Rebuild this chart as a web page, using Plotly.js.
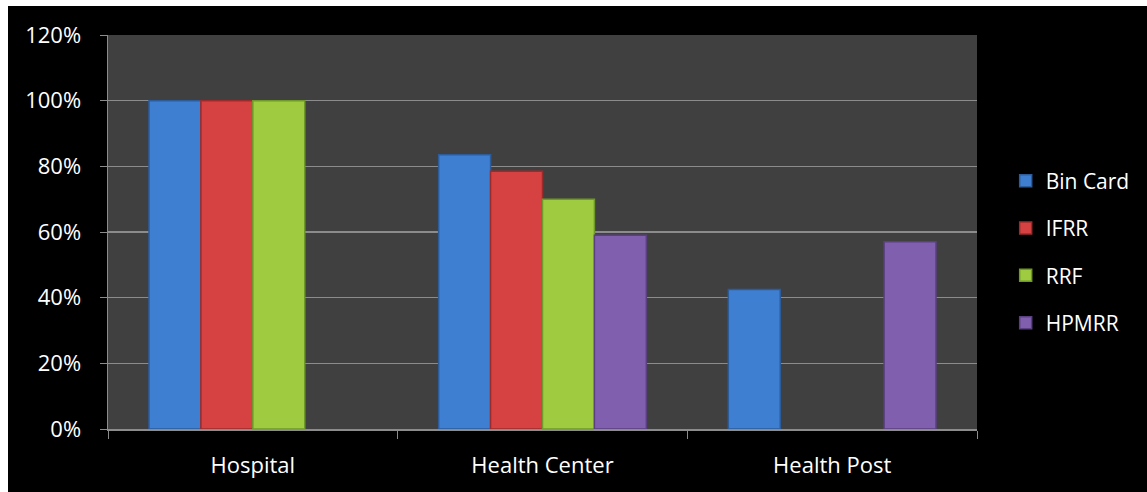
<!DOCTYPE html>
<html>
<head>
<meta charset="utf-8">
<script src="https://cdn.plot.ly/plotly-3.0.1.min.js"></script>
<style>
  html, body { margin: 0; padding: 0; background: #ffffff; }
  #chart { position: absolute; left: 8px; top: 6px; width: 1139px; height: 486px; }
</style>
</head>
<body>
<div id="chart"></div>
<script>
const categories = ["Hospital", "Health Center", "Health Post"];
const seriesNames = ["Bin Card", "IFRR", "RRF", "HPMRR"];
const binCard = [100, 83.5, 42.5];
const ifrr = [100, 78.5, null];
const rrf = [100, 70, null];
const hpmrr = [null, 59, 57];
const yTicks = [0, 20, 40, 60, 80, 100, 120];

const colors = ["#3f7fd2", "#d64242", "#9ecb3f", "#7f5fae"];
const edges = ["#2c5c9a", "#9c2c2c", "#6f9a2a", "#5a4080"];
const values = [binCard, ifrr, rrf, hpmrr];

const traces = values.map((v, i) => ({
  type: "bar",
  name: seriesNames[i],
  x: categories,
  y: v,
  legendgroup: "g" + i,
  marker: { color: colors[i], line: { color: edges[i], width: 1.5 } },
  hoverinfo: "skip"
}));

const font = "'Open Sans', sans-serif";

const layout = {
  width: 1139,
  height: 486,
  paper_bgcolor: "#000000",
  plot_bgcolor: "#404040",
  margin: { l: 100, r: 166, t: 29, b: 63 },
  barmode: "group",
  bargap: 0.283,
  bargroupgap: 0,
  showlegend: true,
  font: { family: font, color: "#ffffff", size: 22 },
  legend: {
    x: 1.033, xanchor: "left",
    y: 0.449, yanchor: "middle",
    bgcolor: "rgba(0,0,0,0)",
    font: { family: font, color: "#ffffff", size: 21 },
    tracegroupgap: 17,
    itemwidth: 30
  },
  xaxis: {
    type: "category",
    showgrid: false,
    showline: true,
    linecolor: "#8c8c8c",
    linewidth: 1.5,
    ticks: "outside",
    tickson: "boundaries",
    ticklen: 8,
    tickcolor: "#8c8c8c",
    tickfont: { family: font, color: "#ffffff", size: 22 },
    ticklabelstandoff: 16,
    zeroline: false
  },
  yaxis: {
    range: [0, 120],
    tickvals: yTicks,
    ticktext: yTicks.map(t => t + "%"),
    showgrid: true,
    gridcolor: "#8c8c8c",
    gridwidth: 1.5,
    showline: true,
    linecolor: "#8c8c8c",
    linewidth: 1.5,
    ticks: "outside",
    ticklen: 7,
    tickcolor: "#8c8c8c",
    tickfont: { family: font, color: "#ffffff", size: 22 },
    ticklabelstandoff: 14,
    zeroline: false
  }
};

Plotly.newPlot("chart", traces, layout, { displayModeBar: false, staticPlot: true });
</script>
</body>
</html>
